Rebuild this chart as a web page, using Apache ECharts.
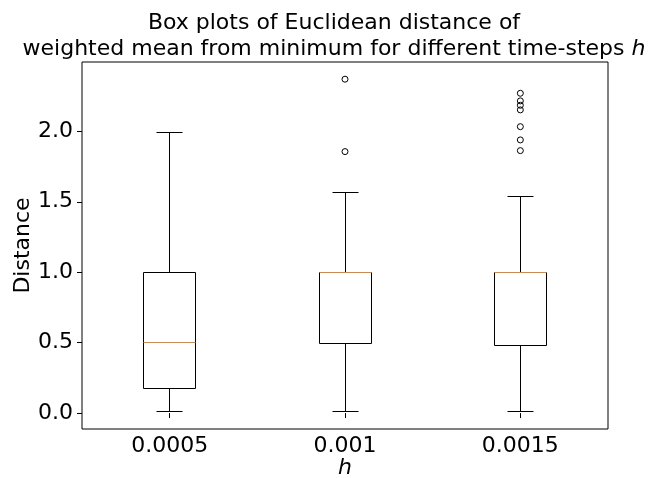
<!DOCTYPE html>
<html>
<head>
<meta charset="utf-8">
<script src="https://cdn.jsdelivr.net/npm/echarts@6/dist/echarts.min.js"></script>
<style>html,body{margin:0;padding:0;background:#fff;}#chart{width:668px;height:478px;}</style>
</head>
<body>
<div id="chart"></div>
<script>
// Data
const categories = ['0.0005', '0.001', '0.0015'];
const whiskerLow = [0.01, 0.01, 0.01];
const q1 = [0.175, 0.495, 0.48];
const median = [0.5, 1.0, 1.0];
const q3 = [1.0, 1.0, 1.0];
const whiskerHigh = [1.99, 1.565, 1.535];
const outliers = [
  [],
  [2.37, 1.856],
  [2.27, 2.216, 2.185, 2.152, 2.033, 1.939, 1.863]
];
const yTicks = [0, 0.5, 1.0, 1.5, 2.0];

const FONT = 'DejaVu Sans';
const boxData = categories.map((c, i) => [i, whiskerLow[i], q1[i], median[i], q3[i], whiskerHigh[i]]);
const outlierData = [];
outliers.forEach((arr, i) => arr.forEach(v => outlierData.push([i, v])));

const chart = echarts.init(document.getElementById('chart'), null, {renderer: 'canvas'});

function px(v) { return Math.round(v - 0.5) + 0.5; }

function renderBox(params, api) {
  const idx = api.value(0);
  const lo = api.coord([idx, api.value(1)]);
  const b1 = api.coord([idx, api.value(2)]);
  const md = api.coord([idx, api.value(3)]);
  const b3 = api.coord([idx, api.value(4)]);
  const hi = api.coord([idx, api.value(5)]);
  const band = api.size([1, 0])[0];
  const bw = band * 0.3;
  const cw = band * 0.15;
  const cx = px(lo[0]);
  const yl = px(lo[1]), y1 = px(b1[1]), ym = px(md[1]), y3 = px(b3[1]), yh = px(hi[1]);
  const xl = px(cx - bw / 2), xr = px(cx + bw / 2);
  const stroke = {stroke: '#000000', lineWidth: 1};
  return {
    type: 'group',
    children: [
      {type: 'line', shape: {x1: cx, y1: y1, x2: cx, y2: yl}, style: stroke},
      {type: 'line', shape: {x1: cx, y1: y3, x2: cx, y2: yh}, style: stroke},
      {type: 'line', shape: {x1: px(cx - cw / 2), y1: yl, x2: px(cx + cw / 2), y2: yl}, style: stroke},
      {type: 'line', shape: {x1: px(cx - cw / 2), y1: yh, x2: px(cx + cw / 2), y2: yh}, style: stroke},
      {type: 'rect', shape: {x: xl, y: y3, width: xr - xl, height: y1 - y3}, style: {stroke: '#000000', lineWidth: 1, fill: 'rgba(0,0,0,0)'}},
      {type: 'line', shape: {x1: xl, y1: ym, x2: xr, y2: ym}, style: {stroke: '#ff7f0e', lineWidth: 1.2, opacity: 1}, z2: 10}
    ]
  };
}

const option = {
  animation: false,
  backgroundColor: '#fff',
  title: {
    text: 'Box plots of Euclidean distance of\nweighted mean from minimum for different time-steps {i|h}',
    left: 334,
    top: 10,
    padding: 0,
    textAlign: 'center',
    textStyle: {
      fontFamily: FONT, fontSize: 22, fontWeight: 'normal', color: '#000', lineHeight: 26,
      rich: {i: {fontFamily: FONT, fontSize: 22, fontStyle: 'italic', color: '#000', lineHeight: 26}}
    }
  },
  grid: {left: 82, right: 60, top: 62, bottom: 49, show: true, borderColor: '#000', borderWidth: 1,
    backgroundColor: 'transparent', containLabel: false, outerBoundsMode: 'none'},
  xAxis: {
    type: 'category',
    data: categories,
    boundaryGap: true,
    name: 'h',
    nameLocation: 'middle',
    nameGap: 28,
    nameMoveOverlap: false,
    nameTextStyle: {fontFamily: FONT, fontSize: 22, fontStyle: 'italic', color: '#000'},
    axisLine: {show: false},
    axisTick: {show: true, alignWithLabel: true, length: 5, lineStyle: {color: '#000'}},
    axisLabel: {fontFamily: FONT, fontSize: 22, color: '#000', margin: 6},
    splitLine: {show: false}
  },
  yAxis: {
    type: 'value',
    min: -0.113,
    max: 2.492,
    name: 'Distance',
    nameLocation: 'middle',
    nameRotate: 90,
    nameGap: 48,
    nameMoveOverlap: false,
    nameTextStyle: {fontFamily: FONT, fontSize: 22, color: '#000'},
    axisLine: {show: false},
    axisTick: {show: true, length: 5, lineStyle: {color: '#000'}, customValues: yTicks},
    axisLabel: {fontFamily: FONT, fontSize: 22, color: '#000', margin: 9, customValues: yTicks,
      formatter: v => v.toFixed(1)},
    splitLine: {show: false}
  },
  series: [
    {
      type: 'custom',
      renderItem: renderBox,
      data: boxData,
      encode: {x: 0, y: [1, 2, 3, 4, 5]},
      z: 2
    },
    {
      type: 'scatter',
      data: outlierData,
      symbol: 'circle',
      symbolSize: 6,
      itemStyle: {color: 'rgba(0,0,0,0)', borderColor: '#000', borderWidth: 1, opacity: 1},
      z: 3
    }
  ]
};
chart.setOption(option);
</script>
</body>
</html>
